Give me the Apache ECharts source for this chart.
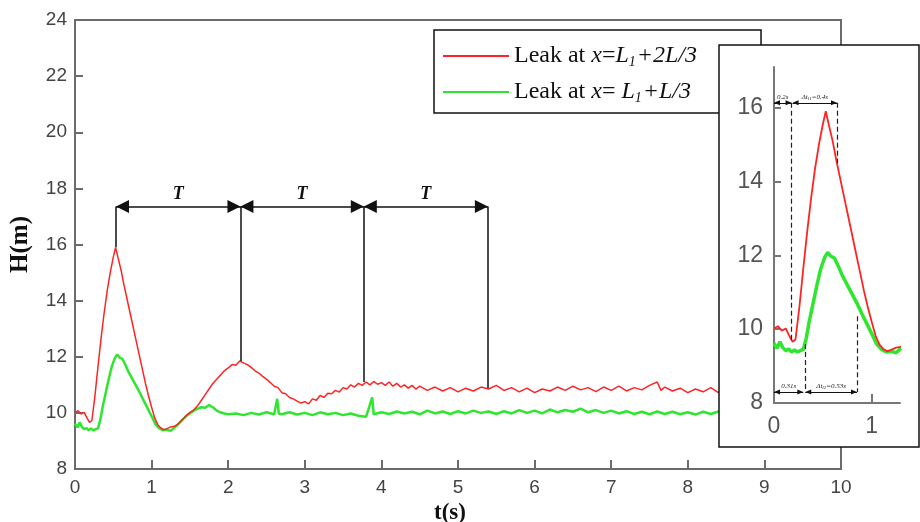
<!DOCTYPE html>
<html><head><meta charset="utf-8">
<script src="https://cdn.jsdelivr.net/npm/echarts@6/dist/echarts.min.js"></script>
<style>html,body{margin:0;padding:0;background:#fff}#c{width:920px;height:522px}</style>
</head><body><div id="c"></div>
<script>
// ---- data ----
const timeRed = [0.00,0.04,0.08,0.12,0.16,0.19,0.22,0.26,0.30,0.34,0.38,0.42,0.46,0.50,0.53,0.56,0.60,0.64,0.68,0.72,0.76,0.80,0.84,0.88,0.92,0.96,1.00,1.04,1.08,1.12,1.16,1.20,1.25,1.30,1.35,1.40,1.45,1.50,1.55,1.60,1.65,1.70,1.75,1.80,1.85,1.90,1.95,2.00,2.05,2.10,2.15,2.20,2.25,2.30,2.35,2.40,2.45,2.50,2.55,2.60,2.65,2.70,2.75,2.80,2.85,2.90,2.95,3.00,3.05,3.10,3.15,3.20,3.25,3.30,3.35,3.40,3.45,3.50,3.55,3.60,3.65,3.70,3.75,3.80,3.85,3.90,3.95,4.00,4.05,4.10,4.15,4.20,4.25,4.30,4.35,4.40,4.45,4.50,4.60,4.70,4.80,4.90,5.00,5.10,5.20,5.30,5.40,5.50,5.60,5.70,5.80,5.90,6.00,6.10,6.20,6.30,6.40,6.50,6.60,6.70,6.80,6.90,7.00,7.10,7.20,7.30,7.40,7.50,7.60,7.65,7.70,7.80,7.90,8.00,8.10,8.20,8.30,8.40,8.50,8.60,8.70,8.80,8.90,9.00,9.10,9.20,9.40,9.60,9.80,10.00];
const headRed = [10.02,10.08,9.96,10.02,9.80,9.66,9.72,10.60,11.65,12.65,13.55,14.35,15.00,15.55,15.90,15.55,15.10,14.55,14.05,13.55,13.05,12.55,12.05,11.55,11.05,10.60,10.20,9.82,9.58,9.46,9.40,9.44,9.50,9.52,9.62,9.75,9.90,10.02,10.10,10.25,10.45,10.65,10.85,11.05,11.20,11.35,11.50,11.60,11.72,11.70,11.85,11.78,11.72,11.62,11.50,11.42,11.30,11.20,11.08,10.95,10.90,10.72,10.68,10.55,10.50,10.42,10.35,10.40,10.32,10.50,10.45,10.62,10.55,10.70,10.68,10.80,10.74,10.90,10.85,11.00,10.92,11.05,10.98,11.10,11.00,11.12,11.02,11.08,10.98,11.10,10.95,11.05,10.92,11.00,10.88,10.98,10.85,10.95,10.80,10.92,10.78,10.90,10.75,10.88,10.78,10.92,10.85,10.98,10.80,10.90,10.75,10.88,10.72,10.85,10.78,10.92,10.80,10.95,10.82,10.90,10.76,10.92,10.80,10.95,10.78,10.90,10.82,10.98,11.10,10.80,10.92,10.78,10.88,10.72,10.85,10.75,10.90,10.72,10.85,10.70,10.82,10.68,10.80,10.70,10.82,10.72,10.80,10.70,10.78,10.72];
const timeGreen = [0.00,0.03,0.06,0.09,0.12,0.15,0.18,0.21,0.24,0.27,0.30,0.33,0.36,0.40,0.44,0.48,0.52,0.55,0.58,0.62,0.66,0.70,0.75,0.80,0.85,0.90,0.95,1.00,1.05,1.10,1.15,1.20,1.25,1.30,1.35,1.40,1.45,1.50,1.55,1.60,1.65,1.70,1.75,1.80,1.85,1.90,1.95,2.00,2.10,2.20,2.30,2.40,2.50,2.60,2.64,2.66,2.70,2.80,2.90,3.00,3.10,3.20,3.30,3.40,3.50,3.60,3.70,3.80,3.88,3.90,4.00,4.10,4.20,4.30,4.40,4.50,4.60,4.70,4.80,4.90,5.00,5.10,5.20,5.30,5.40,5.50,5.60,5.70,5.80,5.90,6.00,6.10,6.20,6.30,6.40,6.50,6.60,6.70,6.80,6.90,7.00,7.10,7.20,7.30,7.40,7.50,7.60,7.70,7.80,7.90,8.00,8.10,8.20,8.30,8.40,8.50,8.60,8.70,8.80,8.90,9.00,9.20,9.40,9.60,9.80,10.00];
const headGreen = [9.62,9.48,9.66,9.50,9.42,9.46,9.38,9.44,9.38,9.42,9.45,9.75,10.20,10.70,11.20,11.65,11.95,12.08,11.98,11.92,11.70,11.45,11.20,10.95,10.70,10.42,10.15,9.88,9.60,9.45,9.38,9.40,9.36,9.48,9.60,9.75,9.88,9.98,10.08,10.15,10.20,10.18,10.28,10.20,10.08,10.02,9.98,9.95,9.98,9.92,10.00,9.94,10.02,9.95,10.50,9.98,9.95,10.02,9.94,10.00,9.92,10.02,9.95,10.00,9.92,9.98,9.90,9.86,10.55,9.95,10.02,9.96,10.05,9.98,10.04,9.95,10.08,9.98,10.05,9.96,10.06,9.98,10.08,10.00,10.05,9.96,10.06,9.98,10.10,10.00,10.08,9.98,10.12,10.02,10.10,10.04,10.15,10.02,10.10,10.00,10.08,9.98,10.06,9.96,10.04,9.95,10.05,9.96,10.04,9.95,10.02,9.94,10.04,9.96,10.05,9.96,10.04,9.95,10.05,9.98,10.06,9.98,10.04,9.96,10.04,9.98];
const seriesNames = ['Leak at x=L1+2L/3', 'Leak at x= L1+L/3'];
const legendLabels = ['{n|Leak at }{i|x}{n|=}{i|L}{s|1}{i|+2L/3}', '{n|Leak at }{i|x}{n|= }{i|L}{s|1}{i|+L/3}'];
const seriesColors = ['#ff2323', '#2fe62f'];
const xAxisName = 't(s)';
const yAxisName = 'H(m)';
// period annotations (main chart)
const periodTimes = [0.535, 2.16, 3.77, 5.39];
const periodFoot = [15.9, 11.85, 11.1, 10.88];
const periodArrowH = 17.35;
const periodLabel = 'T';
// inset annotations
const insetTimeMax = 1.3;
const insetTopArrowH = 16.13;
const insetBottomArrowH = 8.3;
const insetTopSegments = [[0, 0.18], [0.19, 0.645]];
const insetTopLabels = ['0.2s', '{d|Δt}{s|l1}{d|=0.4s}'];
const insetBottomSegments = [[0, 0.3], [0.32, 0.85]];
const insetBottomLabels = ['0.31s', '{d|Δt}{s|l2}{d|=0.53s}'];
const insetDashX = [0.18, 0.32, 0.645, 0.85];
const insetDashTop = [16.13, 9.6, 16.13, 10.35];
const insetDashBottom = [9.7, 8.3, 14.5, 8.3];
const insetXTicks = [0, 1];
const insetYTicks = [8, 10, 12, 14, 16];

// ---- build ----
const redPts = timeRed.map((t, i) => [t, headRed[i]]);
const greenPts = timeGreen.map((t, i) => [t, headGreen[i]]);
const insetRed = redPts.filter(p => p[0] <= insetTimeMax);
const insetGreen = greenPts.filter(p => p[0] <= insetTimeMax);

const serif = 'Liberation Serif';
const sans = 'Liberation Sans';
const axisGray = '#6b6b6b';
// arrow head whose tip sits at the centre of its box (so the tip lands on the line end)
const arrowHead = 'path://M6 12 L12 24 L0 24 Z M6 0 L6 0';

const mainMark = [];
for (let i = 0; i < periodTimes.length - 1; i++) {
  mainMark.push([{coord: [periodTimes[i], periodArrowH]}, {coord: [periodTimes[i + 1], periodArrowH]}]);
}
for (let i = 0; i < periodTimes.length; i++) {
  mainMark.push([
    {coord: [periodTimes[i], periodArrowH], symbol: 'none', label: {show: false}},
    {coord: [periodTimes[i], periodFoot[i]], symbol: 'none'}
  ]);
}

const insetMark = [];
insetTopSegments.forEach((s, i) => {
  insetMark.push([{coord: [s[0], insetTopArrowH], label: {show: true, formatter: insetTopLabels[i]}}, {coord: [s[1], insetTopArrowH]}]);
});
insetBottomSegments.forEach((s, i) => {
  insetMark.push([{coord: [s[0], insetBottomArrowH], label: {show: true, formatter: insetBottomLabels[i]}}, {coord: [s[1], insetBottomArrowH]}]);
});
insetDashX.forEach((x, i) => {
  insetMark.push([
    {coord: [x, insetDashTop[i]], symbol: 'none', label: {show: false}, lineStyle: {type: [5, 3], width: 1.2, color: '#222'}},
    {coord: [x, insetDashBottom[i]], symbol: 'none'}
  ]);
});

const chart = echarts.init(document.getElementById('c'), null, {renderer: 'canvas'});
chart.setOption({
  animation: false,
  backgroundColor: '#fff',
  grid: [
    {left: 75, top: 20, width: 766, height: 449, show: true, borderColor: axisGray, borderWidth: 2, backgroundColor: 'transparent', outerBoundsMode: 'none', containLabel: false},
    {left: 774, top: 67, width: 126, height: 336, outerBoundsMode: 'none', containLabel: false}
  ],
  xAxis: [
    {gridIndex: 0, type: 'value', min: 0, max: 10, interval: 1,
      axisLine: {lineStyle: {color: axisGray, width: 2}},
      axisTick: {inside: true, length: 9, lineStyle: {color: axisGray, width: 2}},
      axisLabel: {color: '#444', fontSize: 19, fontFamily: sans, margin: 9},
      splitLine: {show: false},
      name: xAxisName, nameLocation: 'middle', nameGap: 24,
      nameTextStyle: {fontFamily: serif, fontWeight: 'bold', fontSize: 23, color: '#111', padding: [0, 16, 0, 0]}},
    {gridIndex: 1, type: 'value', min: 0, max: 1.29, z: 61,
      axisLine: {lineStyle: {color: '#777', width: 2}},
      axisTick: {inside: true, length: 9, customValues: insetXTicks, lineStyle: {color: '#777', width: 2}},
      axisLabel: {customValues: insetXTicks, color: '#555', fontSize: 23, fontFamily: sans, margin: 12},
      splitLine: {show: false}}
  ],
  yAxis: [
    {gridIndex: 0, type: 'value', min: 8, max: 24, interval: 2,
      axisLine: {lineStyle: {color: axisGray, width: 2}},
      axisTick: {inside: true, length: 8, lineStyle: {color: axisGray, width: 2}},
      axisLabel: {color: '#444', fontSize: 19, fontFamily: sans, margin: 8},
      splitLine: {show: false},
      name: yAxisName, nameLocation: 'middle', nameGap: 42,
      nameTextStyle: {fontFamily: serif, fontWeight: 'bold', fontSize: 25, color: '#111'}},
    {gridIndex: 1, type: 'value', min: 8, max: 17.1, z: 61,
      axisLine: {lineStyle: {color: '#777', width: 2}},
      axisTick: {inside: true, length: 7, customValues: insetYTicks, lineStyle: {color: '#777', width: 2}},
      axisLabel: {customValues: insetYTicks, color: '#555', fontSize: 23, fontFamily: sans, margin: 11},
      splitLine: {show: false}}
  ],
  legend: {
    data: seriesNames, left: 434, top: 30, orient: 'vertical',
    icon: 'rect', itemWidth: 66, itemHeight: 2, itemGap: 11,
    padding: [14, 64, 8, 9], borderColor: '#111', borderWidth: 1.5, backgroundColor: '#fff',
    formatter: name => legendLabels[seriesNames.indexOf(name)],
    textStyle: {rich: {
      n: {fontFamily: serif, fontSize: 24, lineHeight: 26, color: '#111'},
      i: {fontFamily: serif, fontSize: 24, lineHeight: 26, fontStyle: 'italic', color: '#111'},
      s: {fontFamily: serif, fontSize: 14, lineHeight: 26, fontStyle: 'italic', color: '#111', verticalAlign: 'bottom', padding: [0, 1, 0, 0]}
    }}
  },
  graphic: [
    {type: 'rect', z: 50, shape: {x: 719, y: 45, width: 200, height: 402},
      style: {fill: '#fff', stroke: '#111', lineWidth: 1.5}}
  ],
  series: [
    {type: 'line', name: seriesNames[0], xAxisIndex: 0, yAxisIndex: 0, data: redPts,
      symbol: 'none', lineStyle: {color: seriesColors[0], width: 1.5}, itemStyle: {color: seriesColors[0]}, z: 3,
      markLine: {silent: true, animation: false, symbol: [arrowHead, arrowHead], symbolSize: [13, 26],
        lineStyle: {color: '#111', width: 1.5, type: 'solid'},
        label: {show: true, position: 'middle', formatter: periodLabel, color: '#111', fontFamily: serif,
          fontStyle: 'italic', fontWeight: 'bold', fontSize: 18, distance: 3},
        emphasis: {disabled: true},
        data: mainMark}},
    {type: 'line', name: seriesNames[1], xAxisIndex: 0, yAxisIndex: 0, data: greenPts,
      symbol: 'none', lineStyle: {color: seriesColors[1], width: 2.5}, itemStyle: {color: seriesColors[1]}, z: 2},
    {type: 'line', name: 'inset-red', xAxisIndex: 1, yAxisIndex: 1, data: insetRed,
      symbol: 'none', lineStyle: {color: seriesColors[0], width: 1.8}, itemStyle: {color: seriesColors[0]}, z: 71,
      markLine: {silent: true, animation: false, z: 72, symbol: [arrowHead, arrowHead], symbolSize: [5, 12],
        lineStyle: {color: '#111', width: 1, type: 'solid'},
        label: {position: 'middle', color: '#222', fontFamily: serif, fontStyle: 'italic', fontSize: 7, distance: 2,
          rich: {d: {fontFamily: serif, fontStyle: 'italic', fontSize: 7, color: '#222'},
                 s: {fontFamily: serif, fontStyle: 'italic', fontSize: 5, color: '#222', verticalAlign: 'bottom'}}},
        emphasis: {disabled: true},
        data: insetMark}},
    {type: 'line', name: 'inset-green', xAxisIndex: 1, yAxisIndex: 1, data: insetGreen,
      symbol: 'none', lineStyle: {color: seriesColors[1], width: 3.5}, itemStyle: {color: seriesColors[1]}, z: 70}
  ]
});
</script></body></html>
